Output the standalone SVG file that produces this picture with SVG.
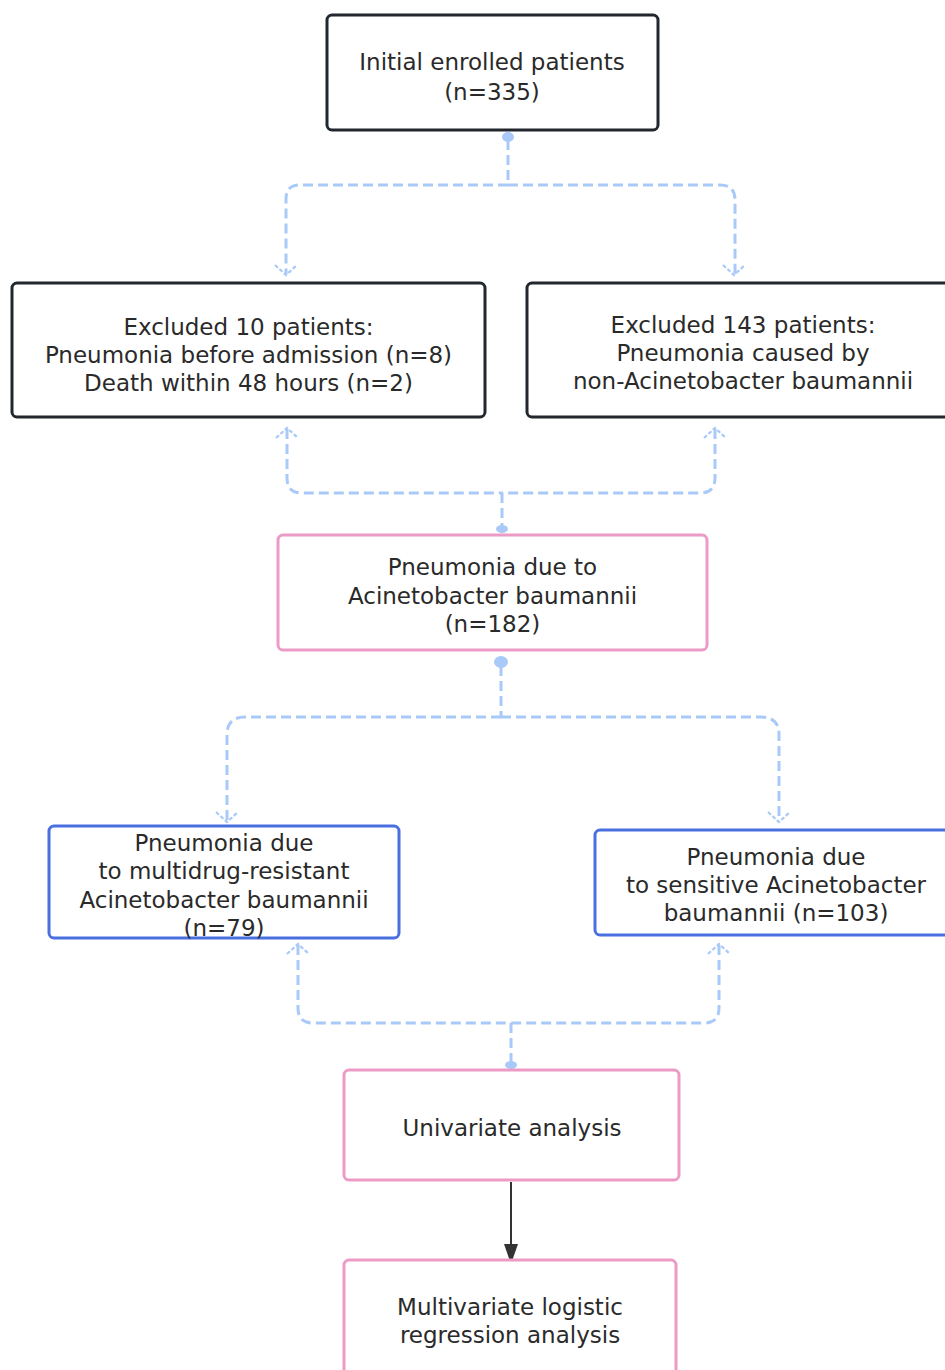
<svg xmlns="http://www.w3.org/2000/svg" width="945" height="1370" viewBox="0 0 945 1370">
<defs>
<style>
.box{fill:#fff;stroke-width:3}
.k{stroke:#22272e}
.p{stroke:#ec9ac6}
.b{stroke:#4a6fe0}
text{font-family:"DejaVu Sans","Noto Sans",sans-serif;font-size:23px;fill:#2a2a2a;text-anchor:middle}
.d{fill:none;stroke:#a9c9f8;stroke-width:3;stroke-dasharray:10 5}
.dot{fill:#a9c9f8}
.ah{fill:none;stroke:#a9c9f8;stroke-width:2.2;stroke-dasharray:4 2}
</style>
<marker id="solid" markerWidth="20" markerHeight="14" refX="18" refY="7" orient="auto" markerUnits="userSpaceOnUse">
<path d="M0,0 L20,7 L0,14 Z" fill="#333"/>
</marker>
</defs>
<rect width="945" height="1370" fill="#fff"/>

<g id="connectors">
<!-- top split -->
<ellipse class="dot" cx="508" cy="137" rx="6" ry="5"/>
<path class="d" d="M508,140 V185"/>
<path class="d" d="M508,185 H300 Q286,185 286,199 V274"/>
<path class="d" d="M508,185 H720 Q735,185 735,200 V274"/>
<path class="ah" d="M275,265 L286,275 L297,265"/>
<path class="ah" d="M723,265 L734,275 L745,265"/>

<!-- merge to pneumonia -->
<path class="ah" d="M276,438 L287,428 L298,438"/>
<path class="ah" d="M704,438 L715,428 L726,438"/>
<path class="d" d="M287,429 V478 Q287,493 302,493 H502"/>
<path class="d" d="M715,429 V478 Q715,493 700,493 H502"/>
<path class="d" d="M502,493 V526"/>
<ellipse class="dot" cx="502" cy="529" rx="6" ry="4"/>

<!-- split to MDR / sensitive -->
<ellipse class="dot" cx="501" cy="662" rx="7" ry="6"/>
<path class="d" d="M501,666 V717"/>
<path class="d" d="M501,717 H245 Q227,717 227,735 V821"/>
<path class="d" d="M501,717 H761 Q779,717 779,735 V821"/>
<path class="ah" d="M216,812 L227,822 L238,812"/>
<path class="ah" d="M768,812 L779,822 L790,812"/>

<!-- merge to univariate -->
<path class="ah" d="M287,954 L298,944 L309,954"/>
<path class="ah" d="M708,954 L719,944 L730,954"/>
<path class="d" d="M298,945 V1008 Q298,1023 313,1023 H511"/>
<path class="d" d="M719,945 V1008 Q719,1023 704,1023 H511"/>
<path class="d" d="M511,1023 V1062"/>
<ellipse class="dot" cx="511" cy="1065" rx="6" ry="4"/>

<!-- univariate to multivariate -->
<path d="M511,1182 V1262" stroke="#333" stroke-width="2" fill="none" marker-end="url(#solid)"/>
</g>

<g id="n1">
<rect class="box k" x="327" y="15" width="331" height="115" rx="5"/>
<text x="492" y="70">Initial enrolled patients</text>
<text x="492" y="100">(n=335)</text>
</g>
<g id="n2">
<rect class="box k" x="12" y="283" width="473" height="134" rx="5"/>
<text x="248.5" y="335">Excluded 10 patients:</text>
<text x="248.5" y="363">Pneumonia before admission (n=8)</text>
<text x="248.5" y="391">Death within 48 hours (n=2)</text>
</g>
<g id="n3">
<rect class="box k" x="527" y="283" width="432" height="134" rx="5"/>
<text x="743" y="333">Excluded 143 patients:</text>
<text x="743" y="361">Pneumonia caused by</text>
<text x="743" y="389">non-Acinetobacter baumannii</text>
</g>
<g id="n4">
<rect class="box p" x="278" y="535" width="429" height="115" rx="5"/>
<text x="492.5" y="575">Pneumonia due to</text>
<text x="492.5" y="604">Acinetobacter baumannii</text>
<text x="492.5" y="632">(n=182)</text>
</g>
<g id="n5">
<rect class="box b" x="49" y="826" width="350" height="112" rx="5"/>
<text x="224" y="851">Pneumonia due</text>
<text x="224" y="879">to multidrug-resistant</text>
<text x="224" y="908">Acinetobacter baumannii</text>
<text x="224" y="936">(n=79)</text>
</g>
<g id="n6">
<rect class="box b" x="595" y="830" width="362" height="105" rx="5"/>
<text x="776" y="865">Pneumonia due</text>
<text x="776" y="893">to sensitive Acinetobacter</text>
<text x="776" y="921">baumannii (n=103)</text>
</g>
<g id="n7">
<rect class="box p" x="344" y="1070" width="335" height="110" rx="5"/>
<text x="512" y="1136">Univariate analysis</text>
</g>
<g id="n8">
<rect class="box p" x="344" y="1260" width="332" height="125" rx="5"/>
<text x="510" y="1315">Multivariate logistic</text>
<text x="510" y="1343">regression analysis</text>
</g>
</svg>
